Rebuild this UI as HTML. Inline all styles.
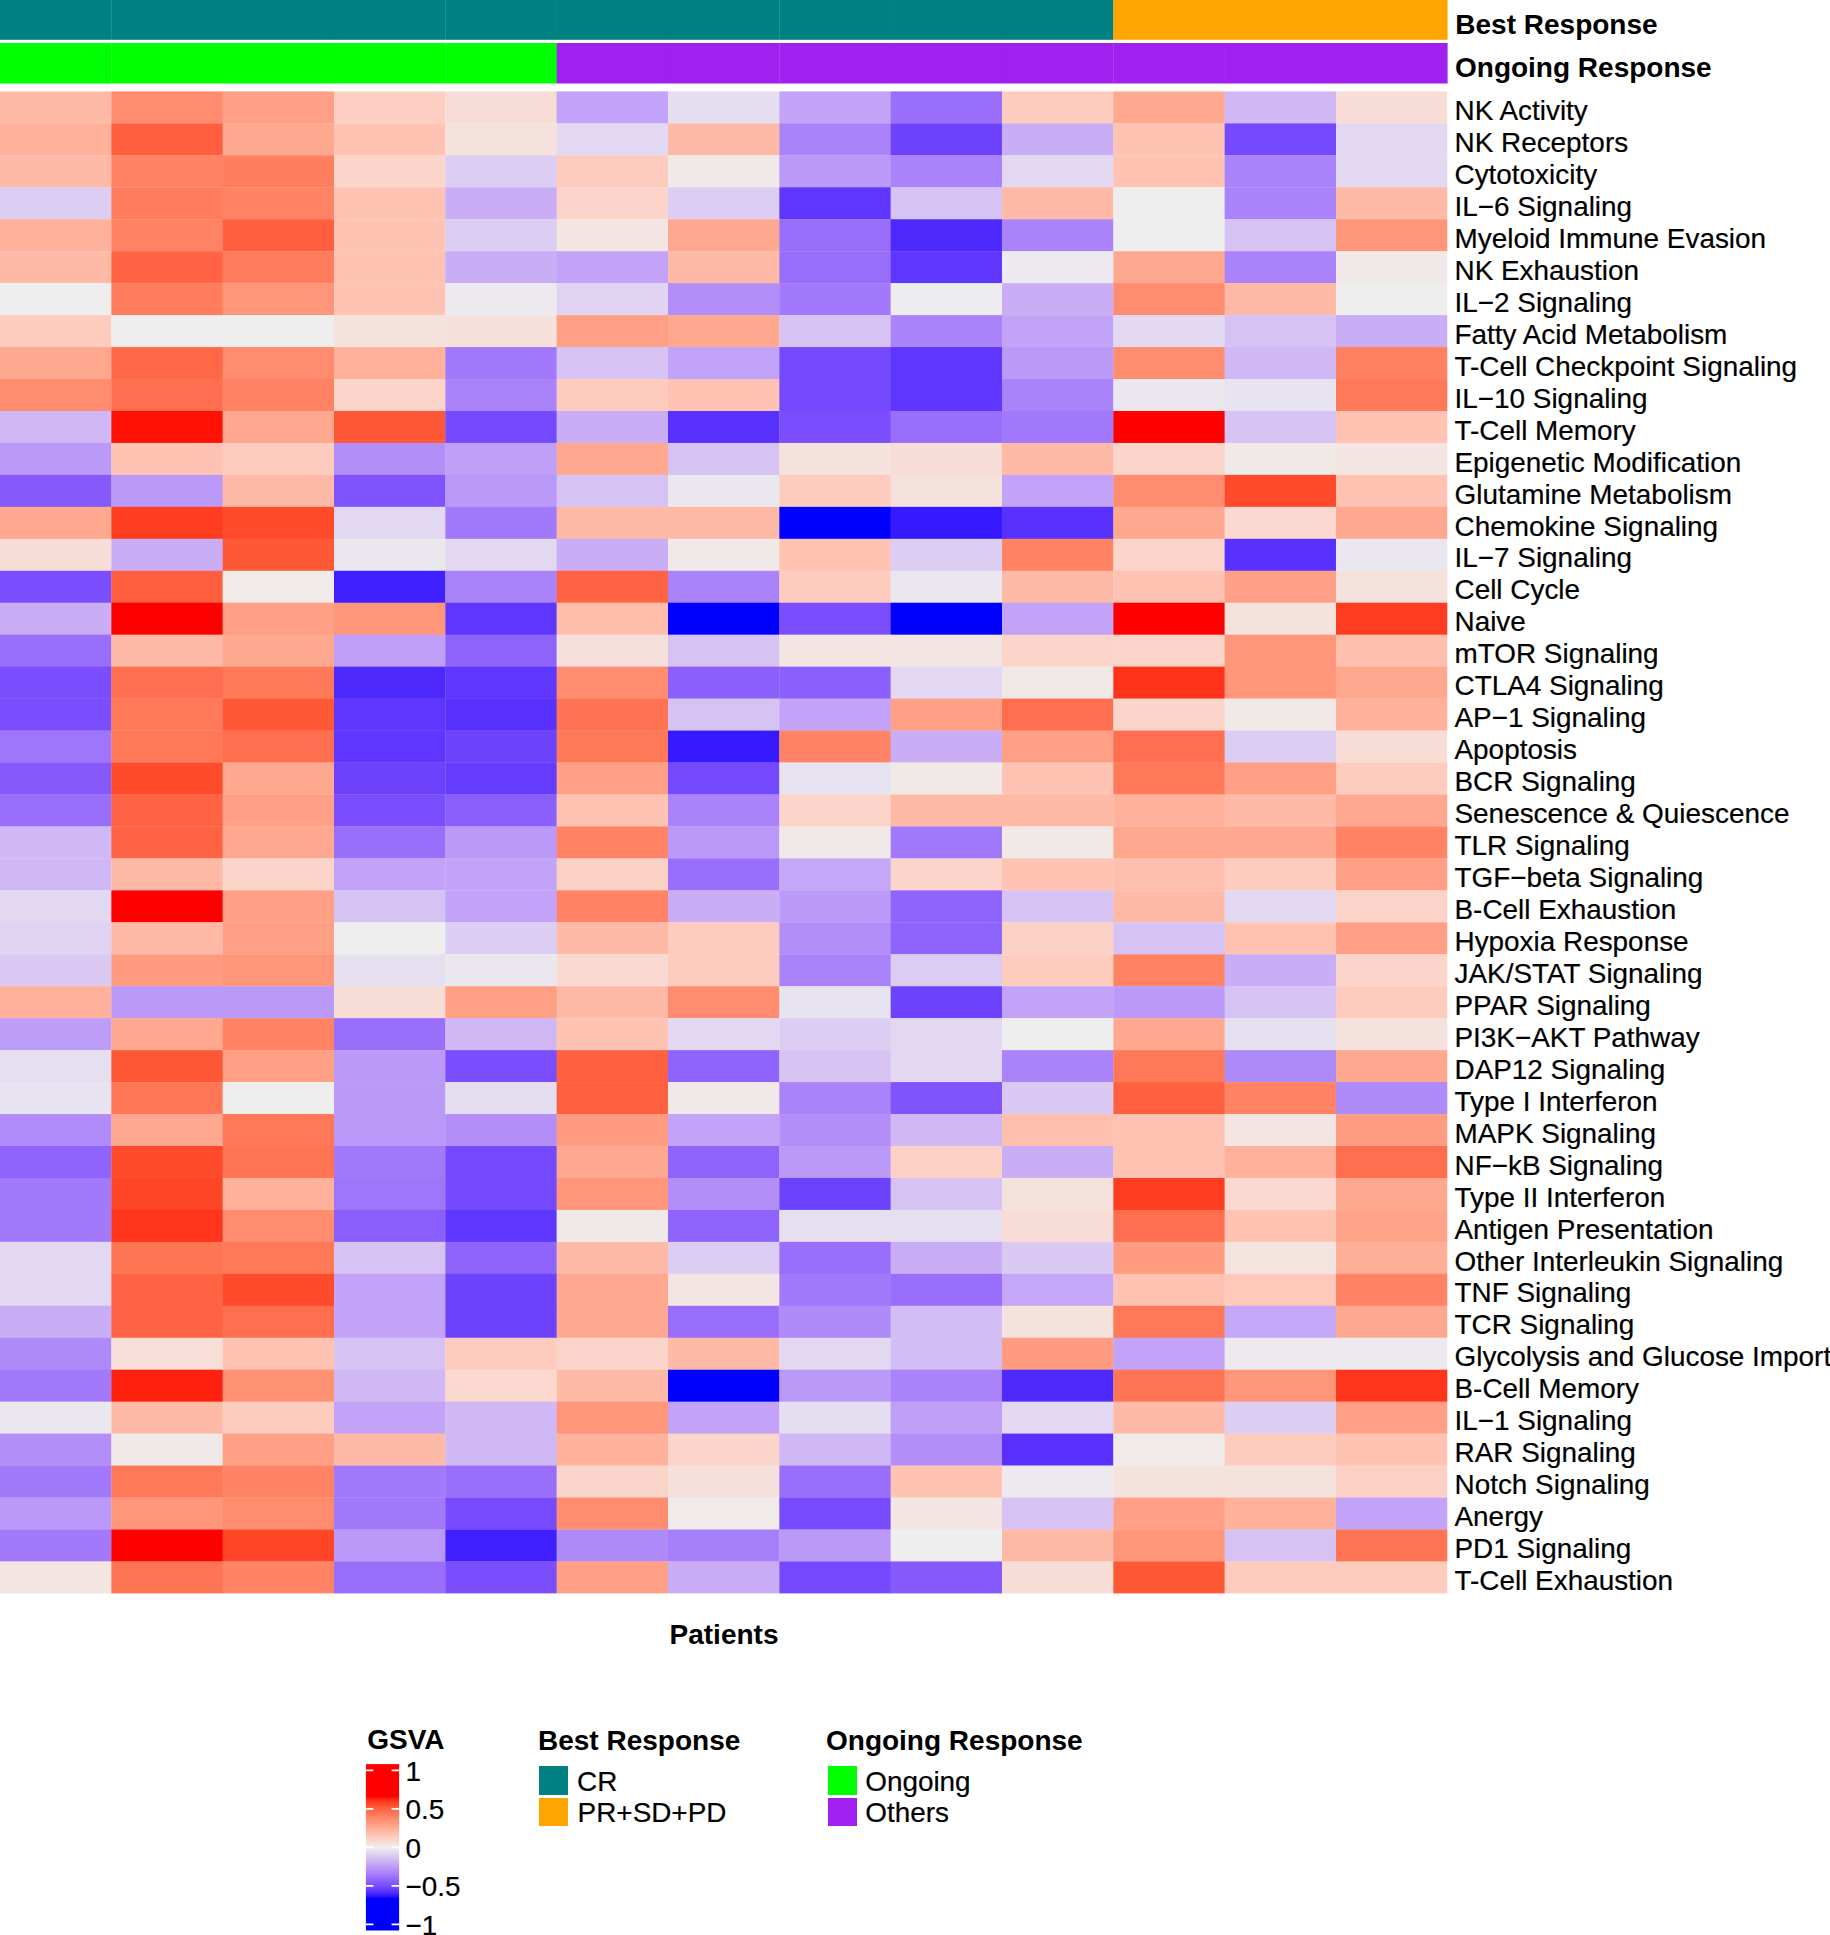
<!DOCTYPE html><html><head><meta charset="utf-8"><title>GSVA Heatmap</title><style>
html,body{margin:0;padding:0;background:#fff}
body{width:1830px;height:1935px;position:relative;overflow:hidden;font-family:"Liberation Sans",Arial,Helvetica,sans-serif;color:#000}
svg{position:absolute;left:0;top:0}
.t{position:absolute;white-space:nowrap;font-size:27.9px;line-height:1;}
.t{-webkit-text-stroke:0.2px #000}
.b{font-weight:bold;-webkit-text-stroke:0}

</style></head><body>
<svg width="1830" height="1935" viewBox="0 0 1830 1935">
<defs><linearGradient id="g" x1="0" y1="0" x2="0" y2="1">
<stop offset="0.0147" stop-color="#FF0000"/>
<stop offset="0.0379" stop-color="#FF0000"/>
<stop offset="0.0610" stop-color="#FF0000"/>
<stop offset="0.0841" stop-color="#FF0000"/>
<stop offset="0.1073" stop-color="#FF0000"/>
<stop offset="0.1304" stop-color="#FF0000"/>
<stop offset="0.1535" stop-color="#FF0000"/>
<stop offset="0.1767" stop-color="#FF0000"/>
<stop offset="0.1952" stop-color="#FF0000"/>
<stop offset="0.1998" stop-color="#FF1205"/>
<stop offset="0.2230" stop-color="#FF381E"/>
<stop offset="0.2461" stop-color="#FF4F30"/>
<stop offset="0.2692" stop-color="#FF6241"/>
<stop offset="0.2924" stop-color="#FF7252"/>
<stop offset="0.3155" stop-color="#FF8262"/>
<stop offset="0.3386" stop-color="#FF9073"/>
<stop offset="0.3618" stop-color="#FF9E84"/>
<stop offset="0.3849" stop-color="#FFAC95"/>
<stop offset="0.4081" stop-color="#FFBAA6"/>
<stop offset="0.4312" stop-color="#FFC7B8"/>
<stop offset="0.4543" stop-color="#FBD4CA"/>
<stop offset="0.4775" stop-color="#F5E1DC"/>
<stop offset="0.5006" stop-color="#EEEEEE"/>
<stop offset="0.5237" stop-color="#E5DEF0"/>
<stop offset="0.5469" stop-color="#DCCDF2"/>
<stop offset="0.5700" stop-color="#D2BDF4"/>
<stop offset="0.5931" stop-color="#C8ADF6"/>
<stop offset="0.6163" stop-color="#BD9DF8"/>
<stop offset="0.6394" stop-color="#B28DF9"/>
<stop offset="0.6626" stop-color="#A57DFA"/>
<stop offset="0.6857" stop-color="#986DFB"/>
<stop offset="0.7088" stop-color="#895DFC"/>
<stop offset="0.7320" stop-color="#784CFD"/>
<stop offset="0.7551" stop-color="#643AFE"/>
<stop offset="0.7782" stop-color="#4A27FE"/>
<stop offset="0.8014" stop-color="#1B09FF"/>
<stop offset="0.8060" stop-color="#0000FF"/>
<stop offset="0.8245" stop-color="#0000FF"/>
<stop offset="0.8477" stop-color="#0000FF"/>
<stop offset="0.8708" stop-color="#0000FF"/>
<stop offset="0.8939" stop-color="#0000FF"/>
<stop offset="0.9171" stop-color="#0000FF"/>
<stop offset="0.9402" stop-color="#0000FF"/>
<stop offset="0.9633" stop-color="#0000FF"/>
<stop offset="0.9865" stop-color="#0000FF"/>
</linearGradient></defs>
<rect x="0.00" y="0.00" width="111.63" height="39.80" fill="#008080"/>
<rect x="0.00" y="43.00" width="111.63" height="40.50" fill="#00FF00"/>
<rect x="111.33" y="0.00" width="111.63" height="39.80" fill="#008080"/>
<rect x="111.33" y="43.00" width="111.63" height="40.50" fill="#00FF00"/>
<rect x="222.66" y="0.00" width="111.63" height="39.80" fill="#008080"/>
<rect x="222.66" y="43.00" width="111.63" height="40.50" fill="#00FF00"/>
<rect x="333.99" y="0.00" width="111.63" height="39.80" fill="#008080"/>
<rect x="333.99" y="43.00" width="111.63" height="40.50" fill="#00FF00"/>
<rect x="445.32" y="0.00" width="111.63" height="39.80" fill="#008080"/>
<rect x="445.32" y="43.00" width="111.63" height="40.50" fill="#00FF00"/>
<rect x="556.65" y="0.00" width="111.63" height="39.80" fill="#008080"/>
<rect x="556.65" y="43.00" width="111.63" height="40.50" fill="#A020F0"/>
<rect x="667.98" y="0.00" width="111.63" height="39.80" fill="#008080"/>
<rect x="667.98" y="43.00" width="111.63" height="40.50" fill="#A020F0"/>
<rect x="779.32" y="0.00" width="111.63" height="39.80" fill="#008080"/>
<rect x="779.32" y="43.00" width="111.63" height="40.50" fill="#A020F0"/>
<rect x="890.65" y="0.00" width="111.63" height="39.80" fill="#008080"/>
<rect x="890.65" y="43.00" width="111.63" height="40.50" fill="#A020F0"/>
<rect x="1001.98" y="0.00" width="111.63" height="39.80" fill="#008080"/>
<rect x="1001.98" y="43.00" width="111.63" height="40.50" fill="#A020F0"/>
<rect x="1113.31" y="0.00" width="111.63" height="39.80" fill="#FFA500"/>
<rect x="1113.31" y="43.00" width="111.63" height="40.50" fill="#A020F0"/>
<rect x="1224.64" y="0.00" width="111.63" height="39.80" fill="#FFA500"/>
<rect x="1224.64" y="43.00" width="111.63" height="40.50" fill="#A020F0"/>
<rect x="1335.97" y="0.00" width="111.63" height="39.80" fill="#FFA500"/>
<rect x="1335.97" y="43.00" width="111.63" height="40.50" fill="#A020F0"/>
<rect x="0.00" y="91.40" width="111.63" height="32.26" fill="#FFBAA7"/>
<rect x="111.33" y="91.40" width="111.63" height="32.26" fill="#FF8C6F"/>
<rect x="222.66" y="91.40" width="111.63" height="32.26" fill="#FF9F85"/>
<rect x="333.99" y="91.40" width="111.63" height="32.26" fill="#FDCFC3"/>
<rect x="445.32" y="91.40" width="111.63" height="32.26" fill="#F7DDD6"/>
<rect x="556.65" y="91.40" width="111.63" height="32.26" fill="#C2A3F7"/>
<rect x="667.98" y="91.40" width="111.63" height="32.26" fill="#E5DDF0"/>
<rect x="779.32" y="91.40" width="111.63" height="32.26" fill="#C2A3F7"/>
<rect x="890.65" y="91.40" width="111.63" height="32.26" fill="#996EFB"/>
<rect x="1001.98" y="91.40" width="111.63" height="32.26" fill="#FECCBE"/>
<rect x="1113.31" y="91.40" width="111.63" height="32.26" fill="#FFA890"/>
<rect x="1224.64" y="91.40" width="111.63" height="32.26" fill="#CFB8F5"/>
<rect x="1335.97" y="91.40" width="111.33" height="32.26" fill="#F7DDD6"/>
<rect x="0.00" y="123.36" width="111.63" height="32.26" fill="#FFB19C"/>
<rect x="111.33" y="123.36" width="111.63" height="32.26" fill="#FF5F3E"/>
<rect x="222.66" y="123.36" width="111.63" height="32.26" fill="#FFA890"/>
<rect x="333.99" y="123.36" width="111.63" height="32.26" fill="#FFC3B3"/>
<rect x="445.32" y="123.36" width="111.63" height="32.26" fill="#F5E2DD"/>
<rect x="556.65" y="123.36" width="111.63" height="32.26" fill="#E2D8F1"/>
<rect x="667.98" y="123.36" width="111.63" height="32.26" fill="#FFBAA7"/>
<rect x="779.32" y="123.36" width="111.63" height="32.26" fill="#AA83FA"/>
<rect x="890.65" y="123.36" width="111.63" height="32.26" fill="#6D42FD"/>
<rect x="1001.98" y="123.36" width="111.63" height="32.26" fill="#C9AEF6"/>
<rect x="1113.31" y="123.36" width="111.63" height="32.26" fill="#FFC3B3"/>
<rect x="1224.64" y="123.36" width="111.63" height="32.26" fill="#7549FD"/>
<rect x="1335.97" y="123.36" width="111.33" height="32.26" fill="#E2D8F1"/>
<rect x="0.00" y="155.31" width="111.63" height="32.26" fill="#FFBAA7"/>
<rect x="111.33" y="155.31" width="111.63" height="32.26" fill="#FF8364"/>
<rect x="222.66" y="155.31" width="111.63" height="32.26" fill="#FF7F5F"/>
<rect x="333.99" y="155.31" width="111.63" height="32.26" fill="#FBD4CA"/>
<rect x="445.32" y="155.31" width="111.63" height="32.26" fill="#DCCEF2"/>
<rect x="556.65" y="155.31" width="111.63" height="32.26" fill="#FECCBE"/>
<rect x="667.98" y="155.31" width="111.63" height="32.26" fill="#F1E9E7"/>
<rect x="779.32" y="155.31" width="111.63" height="32.26" fill="#BA99F8"/>
<rect x="890.65" y="155.31" width="111.63" height="32.26" fill="#AA83FA"/>
<rect x="1001.98" y="155.31" width="111.63" height="32.26" fill="#E2D8F1"/>
<rect x="1113.31" y="155.31" width="111.63" height="32.26" fill="#FFC3B3"/>
<rect x="1224.64" y="155.31" width="111.63" height="32.26" fill="#AA83FA"/>
<rect x="1335.97" y="155.31" width="111.33" height="32.26" fill="#E2D8F1"/>
<rect x="0.00" y="187.27" width="111.63" height="32.26" fill="#DCCEF2"/>
<rect x="111.33" y="187.27" width="111.63" height="32.26" fill="#FF7D5D"/>
<rect x="222.66" y="187.27" width="111.63" height="32.26" fill="#FF8364"/>
<rect x="333.99" y="187.27" width="111.63" height="32.26" fill="#FFC3B3"/>
<rect x="445.32" y="187.27" width="111.63" height="32.26" fill="#C9AEF6"/>
<rect x="556.65" y="187.27" width="111.63" height="32.26" fill="#FBD4CA"/>
<rect x="667.98" y="187.27" width="111.63" height="32.26" fill="#DCCEF2"/>
<rect x="779.32" y="187.27" width="111.63" height="32.26" fill="#5F36FE"/>
<rect x="890.65" y="187.27" width="111.63" height="32.26" fill="#D6C3F4"/>
<rect x="1001.98" y="187.27" width="111.63" height="32.26" fill="#FFBAA7"/>
<rect x="1113.31" y="187.27" width="111.63" height="32.26" fill="#EEEEEE"/>
<rect x="1224.64" y="187.27" width="111.63" height="32.26" fill="#AA83FA"/>
<rect x="1335.97" y="187.27" width="111.33" height="32.26" fill="#FFBAA7"/>
<rect x="0.00" y="219.23" width="111.63" height="32.26" fill="#FFB19C"/>
<rect x="111.33" y="219.23" width="111.63" height="32.26" fill="#FF8364"/>
<rect x="222.66" y="219.23" width="111.63" height="32.26" fill="#FF5F3E"/>
<rect x="333.99" y="219.23" width="111.63" height="32.26" fill="#FFC3B3"/>
<rect x="445.32" y="219.23" width="111.63" height="32.26" fill="#DCCEF2"/>
<rect x="556.65" y="219.23" width="111.63" height="32.26" fill="#F3E5E2"/>
<rect x="667.98" y="219.23" width="111.63" height="32.26" fill="#FFA890"/>
<rect x="779.32" y="219.23" width="111.63" height="32.26" fill="#996EFB"/>
<rect x="890.65" y="219.23" width="111.63" height="32.26" fill="#4D29FE"/>
<rect x="1001.98" y="219.23" width="111.63" height="32.26" fill="#AA83FA"/>
<rect x="1113.31" y="219.23" width="111.63" height="32.26" fill="#EEEEEE"/>
<rect x="1224.64" y="219.23" width="111.63" height="32.26" fill="#D6C3F4"/>
<rect x="1335.97" y="219.23" width="111.33" height="32.26" fill="#FF967A"/>
<rect x="0.00" y="251.19" width="111.63" height="32.26" fill="#FFBAA7"/>
<rect x="111.33" y="251.19" width="111.63" height="32.26" fill="#FF6343"/>
<rect x="222.66" y="251.19" width="111.63" height="32.26" fill="#FF7D5D"/>
<rect x="333.99" y="251.19" width="111.63" height="32.26" fill="#FFC3B3"/>
<rect x="445.32" y="251.19" width="111.63" height="32.26" fill="#C9AEF6"/>
<rect x="556.65" y="251.19" width="111.63" height="32.26" fill="#C2A3F7"/>
<rect x="667.98" y="251.19" width="111.63" height="32.26" fill="#FFBAA7"/>
<rect x="779.32" y="251.19" width="111.63" height="32.26" fill="#996EFB"/>
<rect x="890.65" y="251.19" width="111.63" height="32.26" fill="#5F36FE"/>
<rect x="1001.98" y="251.19" width="111.63" height="32.26" fill="#ECEAEF"/>
<rect x="1113.31" y="251.19" width="111.63" height="32.26" fill="#FFA890"/>
<rect x="1224.64" y="251.19" width="111.63" height="32.26" fill="#AA83FA"/>
<rect x="1335.97" y="251.19" width="111.33" height="32.26" fill="#F1E9E7"/>
<rect x="0.00" y="283.14" width="111.63" height="32.26" fill="#EEEEEE"/>
<rect x="111.33" y="283.14" width="111.63" height="32.26" fill="#FF7D5D"/>
<rect x="222.66" y="283.14" width="111.63" height="32.26" fill="#FF967A"/>
<rect x="333.99" y="283.14" width="111.63" height="32.26" fill="#FFC3B3"/>
<rect x="445.32" y="283.14" width="111.63" height="32.26" fill="#ECEAEF"/>
<rect x="556.65" y="283.14" width="111.63" height="32.26" fill="#E0D4F2"/>
<rect x="667.98" y="283.14" width="111.63" height="32.26" fill="#B38EF9"/>
<rect x="779.32" y="283.14" width="111.63" height="32.26" fill="#A279FA"/>
<rect x="890.65" y="283.14" width="111.63" height="32.26" fill="#EDECEE"/>
<rect x="1001.98" y="283.14" width="111.63" height="32.26" fill="#C9AEF6"/>
<rect x="1113.31" y="283.14" width="111.63" height="32.26" fill="#FF8C6F"/>
<rect x="1224.64" y="283.14" width="111.63" height="32.26" fill="#FFBAA7"/>
<rect x="1335.97" y="283.14" width="111.33" height="32.26" fill="#EEEEEE"/>
<rect x="0.00" y="315.10" width="111.63" height="32.26" fill="#FECCBE"/>
<rect x="111.33" y="315.10" width="111.63" height="32.26" fill="#EEEEEE"/>
<rect x="222.66" y="315.10" width="111.63" height="32.26" fill="#EEEEEE"/>
<rect x="333.99" y="315.10" width="111.63" height="32.26" fill="#F5E2DD"/>
<rect x="445.32" y="315.10" width="111.63" height="32.26" fill="#F6E0DB"/>
<rect x="556.65" y="315.10" width="111.63" height="32.26" fill="#FF9F85"/>
<rect x="667.98" y="315.10" width="111.63" height="32.26" fill="#FFA890"/>
<rect x="779.32" y="315.10" width="111.63" height="32.26" fill="#D6C3F4"/>
<rect x="890.65" y="315.10" width="111.63" height="32.26" fill="#AA83FA"/>
<rect x="1001.98" y="315.10" width="111.63" height="32.26" fill="#C2A3F7"/>
<rect x="1113.31" y="315.10" width="111.63" height="32.26" fill="#E2D8F1"/>
<rect x="1224.64" y="315.10" width="111.63" height="32.26" fill="#D6C3F4"/>
<rect x="1335.97" y="315.10" width="111.33" height="32.26" fill="#C9AEF6"/>
<rect x="0.00" y="347.06" width="111.63" height="32.26" fill="#FFA890"/>
<rect x="111.33" y="347.06" width="111.63" height="32.26" fill="#FF6847"/>
<rect x="222.66" y="347.06" width="111.63" height="32.26" fill="#FF8C6F"/>
<rect x="333.99" y="347.06" width="111.63" height="32.26" fill="#FFB19C"/>
<rect x="445.32" y="347.06" width="111.63" height="32.26" fill="#A279FA"/>
<rect x="556.65" y="347.06" width="111.63" height="32.26" fill="#D6C3F4"/>
<rect x="667.98" y="347.06" width="111.63" height="32.26" fill="#C2A3F7"/>
<rect x="779.32" y="347.06" width="111.63" height="32.26" fill="#7549FD"/>
<rect x="890.65" y="347.06" width="111.63" height="32.26" fill="#5F36FE"/>
<rect x="1001.98" y="347.06" width="111.63" height="32.26" fill="#BA99F8"/>
<rect x="1113.31" y="347.06" width="111.63" height="32.26" fill="#FF8C6F"/>
<rect x="1224.64" y="347.06" width="111.63" height="32.26" fill="#CFB8F5"/>
<rect x="1335.97" y="347.06" width="111.33" height="32.26" fill="#FF8161"/>
<rect x="0.00" y="379.02" width="111.63" height="32.26" fill="#FF8C6F"/>
<rect x="111.33" y="379.02" width="111.63" height="32.26" fill="#FF6E4E"/>
<rect x="222.66" y="379.02" width="111.63" height="32.26" fill="#FF8364"/>
<rect x="333.99" y="379.02" width="111.63" height="32.26" fill="#FBD4CA"/>
<rect x="445.32" y="379.02" width="111.63" height="32.26" fill="#AA83FA"/>
<rect x="556.65" y="379.02" width="111.63" height="32.26" fill="#FECCBE"/>
<rect x="667.98" y="379.02" width="111.63" height="32.26" fill="#FFC3B3"/>
<rect x="779.32" y="379.02" width="111.63" height="32.26" fill="#7549FD"/>
<rect x="890.65" y="379.02" width="111.63" height="32.26" fill="#5F36FE"/>
<rect x="1001.98" y="379.02" width="111.63" height="32.26" fill="#AA83FA"/>
<rect x="1113.31" y="379.02" width="111.63" height="32.26" fill="#EBE7EF"/>
<rect x="1224.64" y="379.02" width="111.63" height="32.26" fill="#E8E3F0"/>
<rect x="1335.97" y="379.02" width="111.33" height="32.26" fill="#FF7959"/>
<rect x="0.00" y="410.97" width="111.63" height="32.26" fill="#CFB8F5"/>
<rect x="111.33" y="410.97" width="111.63" height="32.26" fill="#FF1205"/>
<rect x="222.66" y="410.97" width="111.63" height="32.26" fill="#FFA890"/>
<rect x="333.99" y="410.97" width="111.63" height="32.26" fill="#FF5837"/>
<rect x="445.32" y="410.97" width="111.63" height="32.26" fill="#7549FD"/>
<rect x="556.65" y="410.97" width="111.63" height="32.26" fill="#C9AEF6"/>
<rect x="667.98" y="410.97" width="111.63" height="32.26" fill="#5831FE"/>
<rect x="779.32" y="410.97" width="111.63" height="32.26" fill="#7A4EFD"/>
<rect x="890.65" y="410.97" width="111.63" height="32.26" fill="#996EFB"/>
<rect x="1001.98" y="410.97" width="111.63" height="32.26" fill="#A279FA"/>
<rect x="1113.31" y="410.97" width="111.63" height="32.26" fill="#FF0000"/>
<rect x="1224.64" y="410.97" width="111.63" height="32.26" fill="#D6C3F4"/>
<rect x="1335.97" y="410.97" width="111.33" height="32.26" fill="#FFC3B3"/>
<rect x="0.00" y="442.93" width="111.63" height="32.26" fill="#BA99F8"/>
<rect x="111.33" y="442.93" width="111.63" height="32.26" fill="#FFC3B3"/>
<rect x="222.66" y="442.93" width="111.63" height="32.26" fill="#FECCBE"/>
<rect x="333.99" y="442.93" width="111.63" height="32.26" fill="#B38EF9"/>
<rect x="445.32" y="442.93" width="111.63" height="32.26" fill="#BF9FF7"/>
<rect x="556.65" y="442.93" width="111.63" height="32.26" fill="#FFA890"/>
<rect x="667.98" y="442.93" width="111.63" height="32.26" fill="#D6C3F4"/>
<rect x="779.32" y="442.93" width="111.63" height="32.26" fill="#F5E2DD"/>
<rect x="890.65" y="442.93" width="111.63" height="32.26" fill="#F7DDD6"/>
<rect x="1001.98" y="442.93" width="111.63" height="32.26" fill="#FFBAA7"/>
<rect x="1113.31" y="442.93" width="111.63" height="32.26" fill="#FBD4CA"/>
<rect x="1224.64" y="442.93" width="111.63" height="32.26" fill="#F1E9E7"/>
<rect x="1335.97" y="442.93" width="111.33" height="32.26" fill="#F3E5E2"/>
<rect x="0.00" y="474.89" width="111.63" height="32.26" fill="#8559FC"/>
<rect x="111.33" y="474.89" width="111.63" height="32.26" fill="#BA99F8"/>
<rect x="222.66" y="474.89" width="111.63" height="32.26" fill="#FFBAA7"/>
<rect x="333.99" y="474.89" width="111.63" height="32.26" fill="#8054FD"/>
<rect x="445.32" y="474.89" width="111.63" height="32.26" fill="#BA99F8"/>
<rect x="556.65" y="474.89" width="111.63" height="32.26" fill="#D6C3F4"/>
<rect x="667.98" y="474.89" width="111.63" height="32.26" fill="#EBE7EF"/>
<rect x="779.32" y="474.89" width="111.63" height="32.26" fill="#FECCBE"/>
<rect x="890.65" y="474.89" width="111.63" height="32.26" fill="#F5E2DD"/>
<rect x="1001.98" y="474.89" width="111.63" height="32.26" fill="#C2A3F7"/>
<rect x="1113.31" y="474.89" width="111.63" height="32.26" fill="#FF8C6F"/>
<rect x="1224.64" y="474.89" width="111.63" height="32.26" fill="#FF4B2C"/>
<rect x="1335.97" y="474.89" width="111.33" height="32.26" fill="#FFC3B3"/>
<rect x="0.00" y="506.85" width="111.63" height="32.26" fill="#FFA890"/>
<rect x="111.33" y="506.85" width="111.63" height="32.26" fill="#FF3C20"/>
<rect x="222.66" y="506.85" width="111.63" height="32.26" fill="#FF4B2C"/>
<rect x="333.99" y="506.85" width="111.63" height="32.26" fill="#E2D8F1"/>
<rect x="445.32" y="506.85" width="111.63" height="32.26" fill="#A279FA"/>
<rect x="556.65" y="506.85" width="111.63" height="32.26" fill="#FFBAA7"/>
<rect x="667.98" y="506.85" width="111.63" height="32.26" fill="#FFBAA7"/>
<rect x="779.32" y="506.85" width="111.63" height="32.26" fill="#0000FF"/>
<rect x="890.65" y="506.85" width="111.63" height="32.26" fill="#3619FF"/>
<rect x="1001.98" y="506.85" width="111.63" height="32.26" fill="#5831FE"/>
<rect x="1113.31" y="506.85" width="111.63" height="32.26" fill="#FFA890"/>
<rect x="1224.64" y="506.85" width="111.63" height="32.26" fill="#F9D9D1"/>
<rect x="1335.97" y="506.85" width="111.33" height="32.26" fill="#FFA890"/>
<rect x="0.00" y="538.80" width="111.63" height="32.26" fill="#F7DDD6"/>
<rect x="111.33" y="538.80" width="111.63" height="32.26" fill="#C9AEF6"/>
<rect x="222.66" y="538.80" width="111.63" height="32.26" fill="#FF5837"/>
<rect x="333.99" y="538.80" width="111.63" height="32.26" fill="#EBE7EF"/>
<rect x="445.32" y="538.80" width="111.63" height="32.26" fill="#E2D8F1"/>
<rect x="556.65" y="538.80" width="111.63" height="32.26" fill="#C9AEF6"/>
<rect x="667.98" y="538.80" width="111.63" height="32.26" fill="#F1E9E7"/>
<rect x="779.32" y="538.80" width="111.63" height="32.26" fill="#FFC3B3"/>
<rect x="890.65" y="538.80" width="111.63" height="32.26" fill="#DCCEF2"/>
<rect x="1001.98" y="538.80" width="111.63" height="32.26" fill="#FF8364"/>
<rect x="1113.31" y="538.80" width="111.63" height="32.26" fill="#FBD4CA"/>
<rect x="1224.64" y="538.80" width="111.63" height="32.26" fill="#5831FE"/>
<rect x="1335.97" y="538.80" width="111.33" height="32.26" fill="#EBE7EF"/>
<rect x="0.00" y="570.76" width="111.63" height="32.26" fill="#7A4EFD"/>
<rect x="111.33" y="570.76" width="111.63" height="32.26" fill="#FF5F3E"/>
<rect x="222.66" y="570.76" width="111.63" height="32.26" fill="#F0EBE9"/>
<rect x="333.99" y="570.76" width="111.63" height="32.26" fill="#4020FF"/>
<rect x="445.32" y="570.76" width="111.63" height="32.26" fill="#AA83FA"/>
<rect x="556.65" y="570.76" width="111.63" height="32.26" fill="#FF6343"/>
<rect x="667.98" y="570.76" width="111.63" height="32.26" fill="#AA83FA"/>
<rect x="779.32" y="570.76" width="111.63" height="32.26" fill="#FECCBE"/>
<rect x="890.65" y="570.76" width="111.63" height="32.26" fill="#EBE7EF"/>
<rect x="1001.98" y="570.76" width="111.63" height="32.26" fill="#FFBAA7"/>
<rect x="1113.31" y="570.76" width="111.63" height="32.26" fill="#FFC3B3"/>
<rect x="1224.64" y="570.76" width="111.63" height="32.26" fill="#FF9F85"/>
<rect x="1335.97" y="570.76" width="111.33" height="32.26" fill="#F5E2DD"/>
<rect x="0.00" y="602.72" width="111.63" height="32.26" fill="#C9AEF6"/>
<rect x="111.33" y="602.72" width="111.63" height="32.26" fill="#FF0000"/>
<rect x="222.66" y="602.72" width="111.63" height="32.26" fill="#FF9F85"/>
<rect x="333.99" y="602.72" width="111.63" height="32.26" fill="#FF967A"/>
<rect x="445.32" y="602.72" width="111.63" height="32.26" fill="#5F36FE"/>
<rect x="556.65" y="602.72" width="111.63" height="32.26" fill="#FFBEAC"/>
<rect x="667.98" y="602.72" width="111.63" height="32.26" fill="#0000FF"/>
<rect x="779.32" y="602.72" width="111.63" height="32.26" fill="#7A4EFD"/>
<rect x="890.65" y="602.72" width="111.63" height="32.26" fill="#0000FF"/>
<rect x="1001.98" y="602.72" width="111.63" height="32.26" fill="#C2A3F7"/>
<rect x="1113.31" y="602.72" width="111.63" height="32.26" fill="#FF0000"/>
<rect x="1224.64" y="602.72" width="111.63" height="32.26" fill="#F5E2DD"/>
<rect x="1335.97" y="602.72" width="111.33" height="32.26" fill="#FF3C20"/>
<rect x="0.00" y="634.68" width="111.63" height="32.26" fill="#996EFB"/>
<rect x="111.33" y="634.68" width="111.63" height="32.26" fill="#FFBAA7"/>
<rect x="222.66" y="634.68" width="111.63" height="32.26" fill="#FFA890"/>
<rect x="333.99" y="634.68" width="111.63" height="32.26" fill="#BF9FF7"/>
<rect x="445.32" y="634.68" width="111.63" height="32.26" fill="#8F64FC"/>
<rect x="556.65" y="634.68" width="111.63" height="32.26" fill="#F6E0DB"/>
<rect x="667.98" y="634.68" width="111.63" height="32.26" fill="#D6C3F4"/>
<rect x="779.32" y="634.68" width="111.63" height="32.26" fill="#F3E5E2"/>
<rect x="890.65" y="634.68" width="111.63" height="32.26" fill="#F3E5E2"/>
<rect x="1001.98" y="634.68" width="111.63" height="32.26" fill="#FBD4CA"/>
<rect x="1113.31" y="634.68" width="111.63" height="32.26" fill="#FBD4CA"/>
<rect x="1224.64" y="634.68" width="111.63" height="32.26" fill="#FF967A"/>
<rect x="1335.97" y="634.68" width="111.33" height="32.26" fill="#FFBFAE"/>
<rect x="0.00" y="666.63" width="111.63" height="32.26" fill="#7A4EFD"/>
<rect x="111.33" y="666.63" width="111.63" height="32.26" fill="#FF6E4E"/>
<rect x="222.66" y="666.63" width="111.63" height="32.26" fill="#FF7959"/>
<rect x="333.99" y="666.63" width="111.63" height="32.26" fill="#4D29FE"/>
<rect x="445.32" y="666.63" width="111.63" height="32.26" fill="#5F36FE"/>
<rect x="556.65" y="666.63" width="111.63" height="32.26" fill="#FF8C6F"/>
<rect x="667.98" y="666.63" width="111.63" height="32.26" fill="#8B5FFC"/>
<rect x="779.32" y="666.63" width="111.63" height="32.26" fill="#8B5FFC"/>
<rect x="890.65" y="666.63" width="111.63" height="32.26" fill="#E2D8F1"/>
<rect x="1001.98" y="666.63" width="111.63" height="32.26" fill="#F1E9E7"/>
<rect x="1113.31" y="666.63" width="111.63" height="32.26" fill="#FF3118"/>
<rect x="1224.64" y="666.63" width="111.63" height="32.26" fill="#FF967A"/>
<rect x="1335.97" y="666.63" width="111.33" height="32.26" fill="#FFA890"/>
<rect x="0.00" y="698.59" width="111.63" height="32.26" fill="#7A4EFD"/>
<rect x="111.33" y="698.59" width="111.63" height="32.26" fill="#FF7959"/>
<rect x="222.66" y="698.59" width="111.63" height="32.26" fill="#FF5837"/>
<rect x="333.99" y="698.59" width="111.63" height="32.26" fill="#5F36FE"/>
<rect x="445.32" y="698.59" width="111.63" height="32.26" fill="#5831FE"/>
<rect x="556.65" y="698.59" width="111.63" height="32.26" fill="#FF7352"/>
<rect x="667.98" y="698.59" width="111.63" height="32.26" fill="#D6C3F4"/>
<rect x="779.32" y="698.59" width="111.63" height="32.26" fill="#C2A3F7"/>
<rect x="890.65" y="698.59" width="111.63" height="32.26" fill="#FF9F85"/>
<rect x="1001.98" y="698.59" width="111.63" height="32.26" fill="#FF6E4E"/>
<rect x="1113.31" y="698.59" width="111.63" height="32.26" fill="#FBD4CA"/>
<rect x="1224.64" y="698.59" width="111.63" height="32.26" fill="#F1E9E7"/>
<rect x="1335.97" y="698.59" width="111.33" height="32.26" fill="#FFB19C"/>
<rect x="0.00" y="730.55" width="111.63" height="32.26" fill="#9E75FB"/>
<rect x="111.33" y="730.55" width="111.63" height="32.26" fill="#FF7959"/>
<rect x="222.66" y="730.55" width="111.63" height="32.26" fill="#FF6E4E"/>
<rect x="333.99" y="730.55" width="111.63" height="32.26" fill="#5F36FE"/>
<rect x="445.32" y="730.55" width="111.63" height="32.26" fill="#6D42FD"/>
<rect x="556.65" y="730.55" width="111.63" height="32.26" fill="#FF7959"/>
<rect x="667.98" y="730.55" width="111.63" height="32.26" fill="#3619FF"/>
<rect x="779.32" y="730.55" width="111.63" height="32.26" fill="#FF8364"/>
<rect x="890.65" y="730.55" width="111.63" height="32.26" fill="#C9AEF6"/>
<rect x="1001.98" y="730.55" width="111.63" height="32.26" fill="#FF9F85"/>
<rect x="1113.31" y="730.55" width="111.63" height="32.26" fill="#FF6E4E"/>
<rect x="1224.64" y="730.55" width="111.63" height="32.26" fill="#DCCEF2"/>
<rect x="1335.97" y="730.55" width="111.33" height="32.26" fill="#F7DDD6"/>
<rect x="0.00" y="762.51" width="111.63" height="32.26" fill="#8559FC"/>
<rect x="111.33" y="762.51" width="111.63" height="32.26" fill="#FF4B2C"/>
<rect x="222.66" y="762.51" width="111.63" height="32.26" fill="#FFA890"/>
<rect x="333.99" y="762.51" width="111.63" height="32.26" fill="#6D42FD"/>
<rect x="445.32" y="762.51" width="111.63" height="32.26" fill="#653BFE"/>
<rect x="556.65" y="762.51" width="111.63" height="32.26" fill="#FF9F85"/>
<rect x="667.98" y="762.51" width="111.63" height="32.26" fill="#7549FD"/>
<rect x="779.32" y="762.51" width="111.63" height="32.26" fill="#E8E3F0"/>
<rect x="890.65" y="762.51" width="111.63" height="32.26" fill="#F1E9E7"/>
<rect x="1001.98" y="762.51" width="111.63" height="32.26" fill="#FFC3B3"/>
<rect x="1113.31" y="762.51" width="111.63" height="32.26" fill="#FF7959"/>
<rect x="1224.64" y="762.51" width="111.63" height="32.26" fill="#FF9F85"/>
<rect x="1335.97" y="762.51" width="111.33" height="32.26" fill="#FECCBE"/>
<rect x="0.00" y="794.46" width="111.63" height="32.26" fill="#996EFB"/>
<rect x="111.33" y="794.46" width="111.63" height="32.26" fill="#FF6343"/>
<rect x="222.66" y="794.46" width="111.63" height="32.26" fill="#FF9F85"/>
<rect x="333.99" y="794.46" width="111.63" height="32.26" fill="#7A4EFD"/>
<rect x="445.32" y="794.46" width="111.63" height="32.26" fill="#8B5FFC"/>
<rect x="556.65" y="794.46" width="111.63" height="32.26" fill="#FFC3B3"/>
<rect x="667.98" y="794.46" width="111.63" height="32.26" fill="#AA83FA"/>
<rect x="779.32" y="794.46" width="111.63" height="32.26" fill="#FBD4CA"/>
<rect x="890.65" y="794.46" width="111.63" height="32.26" fill="#FFBAA7"/>
<rect x="1001.98" y="794.46" width="111.63" height="32.26" fill="#FFBAA7"/>
<rect x="1113.31" y="794.46" width="111.63" height="32.26" fill="#FFB19C"/>
<rect x="1224.64" y="794.46" width="111.63" height="32.26" fill="#FFBAA7"/>
<rect x="1335.97" y="794.46" width="111.33" height="32.26" fill="#FFA890"/>
<rect x="0.00" y="826.42" width="111.63" height="32.26" fill="#CFB8F5"/>
<rect x="111.33" y="826.42" width="111.63" height="32.26" fill="#FF6343"/>
<rect x="222.66" y="826.42" width="111.63" height="32.26" fill="#FFA890"/>
<rect x="333.99" y="826.42" width="111.63" height="32.26" fill="#996EFB"/>
<rect x="445.32" y="826.42" width="111.63" height="32.26" fill="#BA99F8"/>
<rect x="556.65" y="826.42" width="111.63" height="32.26" fill="#FF8364"/>
<rect x="667.98" y="826.42" width="111.63" height="32.26" fill="#BA99F8"/>
<rect x="779.32" y="826.42" width="111.63" height="32.26" fill="#F1E9E7"/>
<rect x="890.65" y="826.42" width="111.63" height="32.26" fill="#A279FA"/>
<rect x="1001.98" y="826.42" width="111.63" height="32.26" fill="#F1E9E7"/>
<rect x="1113.31" y="826.42" width="111.63" height="32.26" fill="#FFA890"/>
<rect x="1224.64" y="826.42" width="111.63" height="32.26" fill="#FFA890"/>
<rect x="1335.97" y="826.42" width="111.33" height="32.26" fill="#FF8364"/>
<rect x="0.00" y="858.38" width="111.63" height="32.26" fill="#CFB8F5"/>
<rect x="111.33" y="858.38" width="111.63" height="32.26" fill="#FFBAA7"/>
<rect x="222.66" y="858.38" width="111.63" height="32.26" fill="#FBD4CA"/>
<rect x="333.99" y="858.38" width="111.63" height="32.26" fill="#C2A3F7"/>
<rect x="445.32" y="858.38" width="111.63" height="32.26" fill="#C2A3F7"/>
<rect x="556.65" y="858.38" width="111.63" height="32.26" fill="#FCD1C5"/>
<rect x="667.98" y="858.38" width="111.63" height="32.26" fill="#996EFB"/>
<rect x="779.32" y="858.38" width="111.63" height="32.26" fill="#C4A7F7"/>
<rect x="890.65" y="858.38" width="111.63" height="32.26" fill="#FBD4CA"/>
<rect x="1001.98" y="858.38" width="111.63" height="32.26" fill="#FFC3B3"/>
<rect x="1113.31" y="858.38" width="111.63" height="32.26" fill="#FFBFAE"/>
<rect x="1224.64" y="858.38" width="111.63" height="32.26" fill="#FECCBE"/>
<rect x="1335.97" y="858.38" width="111.33" height="32.26" fill="#FF9F85"/>
<rect x="0.00" y="890.34" width="111.63" height="32.26" fill="#E2D8F1"/>
<rect x="111.33" y="890.34" width="111.63" height="32.26" fill="#FF0000"/>
<rect x="222.66" y="890.34" width="111.63" height="32.26" fill="#FF9F85"/>
<rect x="333.99" y="890.34" width="111.63" height="32.26" fill="#D6C3F4"/>
<rect x="445.32" y="890.34" width="111.63" height="32.26" fill="#C2A3F7"/>
<rect x="556.65" y="890.34" width="111.63" height="32.26" fill="#FF8364"/>
<rect x="667.98" y="890.34" width="111.63" height="32.26" fill="#C9AEF6"/>
<rect x="779.32" y="890.34" width="111.63" height="32.26" fill="#BA99F8"/>
<rect x="890.65" y="890.34" width="111.63" height="32.26" fill="#8F64FC"/>
<rect x="1001.98" y="890.34" width="111.63" height="32.26" fill="#D6C3F4"/>
<rect x="1113.31" y="890.34" width="111.63" height="32.26" fill="#FFBAA7"/>
<rect x="1224.64" y="890.34" width="111.63" height="32.26" fill="#E2D8F1"/>
<rect x="1335.97" y="890.34" width="111.33" height="32.26" fill="#FCD3C8"/>
<rect x="0.00" y="922.29" width="111.63" height="32.26" fill="#DFD2F2"/>
<rect x="111.33" y="922.29" width="111.63" height="32.26" fill="#FFBAA7"/>
<rect x="222.66" y="922.29" width="111.63" height="32.26" fill="#FF9F85"/>
<rect x="333.99" y="922.29" width="111.63" height="32.26" fill="#EEEEEE"/>
<rect x="445.32" y="922.29" width="111.63" height="32.26" fill="#DCCEF2"/>
<rect x="556.65" y="922.29" width="111.63" height="32.26" fill="#FFBAA7"/>
<rect x="667.98" y="922.29" width="111.63" height="32.26" fill="#FECCBE"/>
<rect x="779.32" y="922.29" width="111.63" height="32.26" fill="#B38EF9"/>
<rect x="890.65" y="922.29" width="111.63" height="32.26" fill="#8F64FC"/>
<rect x="1001.98" y="922.29" width="111.63" height="32.26" fill="#FCD1C5"/>
<rect x="1113.31" y="922.29" width="111.63" height="32.26" fill="#D6C3F4"/>
<rect x="1224.64" y="922.29" width="111.63" height="32.26" fill="#FFC3B3"/>
<rect x="1335.97" y="922.29" width="111.33" height="32.26" fill="#FF9F85"/>
<rect x="0.00" y="954.25" width="111.63" height="32.26" fill="#DAC9F3"/>
<rect x="111.33" y="954.25" width="111.63" height="32.26" fill="#FF9B80"/>
<rect x="222.66" y="954.25" width="111.63" height="32.26" fill="#FF967A"/>
<rect x="333.99" y="954.25" width="111.63" height="32.26" fill="#E6DFF0"/>
<rect x="445.32" y="954.25" width="111.63" height="32.26" fill="#EBE7EF"/>
<rect x="556.65" y="954.25" width="111.63" height="32.26" fill="#F9D9D1"/>
<rect x="667.98" y="954.25" width="111.63" height="32.26" fill="#FECCBE"/>
<rect x="779.32" y="954.25" width="111.63" height="32.26" fill="#AA83FA"/>
<rect x="890.65" y="954.25" width="111.63" height="32.26" fill="#DBCCF3"/>
<rect x="1001.98" y="954.25" width="111.63" height="32.26" fill="#FECCBE"/>
<rect x="1113.31" y="954.25" width="111.63" height="32.26" fill="#FF8364"/>
<rect x="1224.64" y="954.25" width="111.63" height="32.26" fill="#C9AEF6"/>
<rect x="1335.97" y="954.25" width="111.33" height="32.26" fill="#FBD4CA"/>
<rect x="0.00" y="986.21" width="111.63" height="32.26" fill="#FFB19C"/>
<rect x="111.33" y="986.21" width="111.63" height="32.26" fill="#BA99F8"/>
<rect x="222.66" y="986.21" width="111.63" height="32.26" fill="#BA99F8"/>
<rect x="333.99" y="986.21" width="111.63" height="32.26" fill="#F7DDD6"/>
<rect x="445.32" y="986.21" width="111.63" height="32.26" fill="#FF9F85"/>
<rect x="556.65" y="986.21" width="111.63" height="32.26" fill="#FFBAA7"/>
<rect x="667.98" y="986.21" width="111.63" height="32.26" fill="#FF8C6F"/>
<rect x="779.32" y="986.21" width="111.63" height="32.26" fill="#E8E3F0"/>
<rect x="890.65" y="986.21" width="111.63" height="32.26" fill="#6D42FD"/>
<rect x="1001.98" y="986.21" width="111.63" height="32.26" fill="#C2A3F7"/>
<rect x="1113.31" y="986.21" width="111.63" height="32.26" fill="#BA99F8"/>
<rect x="1224.64" y="986.21" width="111.63" height="32.26" fill="#D6C3F4"/>
<rect x="1335.97" y="986.21" width="111.33" height="32.26" fill="#FECCBE"/>
<rect x="0.00" y="1018.17" width="111.63" height="32.26" fill="#BD9DF8"/>
<rect x="111.33" y="1018.17" width="111.63" height="32.26" fill="#FFA890"/>
<rect x="222.66" y="1018.17" width="111.63" height="32.26" fill="#FF8364"/>
<rect x="333.99" y="1018.17" width="111.63" height="32.26" fill="#996EFB"/>
<rect x="445.32" y="1018.17" width="111.63" height="32.26" fill="#CFB8F5"/>
<rect x="556.65" y="1018.17" width="111.63" height="32.26" fill="#FFC3B3"/>
<rect x="667.98" y="1018.17" width="111.63" height="32.26" fill="#E2D8F1"/>
<rect x="779.32" y="1018.17" width="111.63" height="32.26" fill="#DCCEF2"/>
<rect x="890.65" y="1018.17" width="111.63" height="32.26" fill="#E2D8F1"/>
<rect x="1001.98" y="1018.17" width="111.63" height="32.26" fill="#EEEEEE"/>
<rect x="1113.31" y="1018.17" width="111.63" height="32.26" fill="#FFA890"/>
<rect x="1224.64" y="1018.17" width="111.63" height="32.26" fill="#E6DFF0"/>
<rect x="1335.97" y="1018.17" width="111.33" height="32.26" fill="#F5E2DD"/>
<rect x="0.00" y="1050.12" width="111.63" height="32.26" fill="#E6DFF0"/>
<rect x="111.33" y="1050.12" width="111.63" height="32.26" fill="#FF5837"/>
<rect x="222.66" y="1050.12" width="111.63" height="32.26" fill="#FF9F85"/>
<rect x="333.99" y="1050.12" width="111.63" height="32.26" fill="#BA99F8"/>
<rect x="445.32" y="1050.12" width="111.63" height="32.26" fill="#7A4EFD"/>
<rect x="556.65" y="1050.12" width="111.63" height="32.26" fill="#FF6140"/>
<rect x="667.98" y="1050.12" width="111.63" height="32.26" fill="#8F64FC"/>
<rect x="779.32" y="1050.12" width="111.63" height="32.26" fill="#D6C3F4"/>
<rect x="890.65" y="1050.12" width="111.63" height="32.26" fill="#E2D8F1"/>
<rect x="1001.98" y="1050.12" width="111.63" height="32.26" fill="#AA83FA"/>
<rect x="1113.31" y="1050.12" width="111.63" height="32.26" fill="#FF7959"/>
<rect x="1224.64" y="1050.12" width="111.63" height="32.26" fill="#AF8AF9"/>
<rect x="1335.97" y="1050.12" width="111.33" height="32.26" fill="#FFA890"/>
<rect x="0.00" y="1082.08" width="111.63" height="32.26" fill="#E8E3F0"/>
<rect x="111.33" y="1082.08" width="111.63" height="32.26" fill="#FF7756"/>
<rect x="222.66" y="1082.08" width="111.63" height="32.26" fill="#EEEEEE"/>
<rect x="333.99" y="1082.08" width="111.63" height="32.26" fill="#BA99F8"/>
<rect x="445.32" y="1082.08" width="111.63" height="32.26" fill="#E5DDF0"/>
<rect x="556.65" y="1082.08" width="111.63" height="32.26" fill="#FF6140"/>
<rect x="667.98" y="1082.08" width="111.63" height="32.26" fill="#F1E9E7"/>
<rect x="779.32" y="1082.08" width="111.63" height="32.26" fill="#AA83FA"/>
<rect x="890.65" y="1082.08" width="111.63" height="32.26" fill="#8054FD"/>
<rect x="1001.98" y="1082.08" width="111.63" height="32.26" fill="#DAC9F3"/>
<rect x="1113.31" y="1082.08" width="111.63" height="32.26" fill="#FF6140"/>
<rect x="1224.64" y="1082.08" width="111.63" height="32.26" fill="#FF8364"/>
<rect x="1335.97" y="1082.08" width="111.33" height="32.26" fill="#AF8AF9"/>
<rect x="0.00" y="1114.04" width="111.63" height="32.26" fill="#B18CF9"/>
<rect x="111.33" y="1114.04" width="111.63" height="32.26" fill="#FFA890"/>
<rect x="222.66" y="1114.04" width="111.63" height="32.26" fill="#FF7959"/>
<rect x="333.99" y="1114.04" width="111.63" height="32.26" fill="#BA99F8"/>
<rect x="445.32" y="1114.04" width="111.63" height="32.26" fill="#B38EF9"/>
<rect x="556.65" y="1114.04" width="111.63" height="32.26" fill="#FF9B80"/>
<rect x="667.98" y="1114.04" width="111.63" height="32.26" fill="#C2A3F7"/>
<rect x="779.32" y="1114.04" width="111.63" height="32.26" fill="#B38EF9"/>
<rect x="890.65" y="1114.04" width="111.63" height="32.26" fill="#CFB8F5"/>
<rect x="1001.98" y="1114.04" width="111.63" height="32.26" fill="#FFBFAE"/>
<rect x="1113.31" y="1114.04" width="111.63" height="32.26" fill="#FFC3B3"/>
<rect x="1224.64" y="1114.04" width="111.63" height="32.26" fill="#F3E5E2"/>
<rect x="1335.97" y="1114.04" width="111.33" height="32.26" fill="#FF9D83"/>
<rect x="0.00" y="1146.00" width="111.63" height="32.26" fill="#8F64FC"/>
<rect x="111.33" y="1146.00" width="111.63" height="32.26" fill="#FF4B2C"/>
<rect x="222.66" y="1146.00" width="111.63" height="32.26" fill="#FF7554"/>
<rect x="333.99" y="1146.00" width="111.63" height="32.26" fill="#A279FA"/>
<rect x="445.32" y="1146.00" width="111.63" height="32.26" fill="#7549FD"/>
<rect x="556.65" y="1146.00" width="111.63" height="32.26" fill="#FFA890"/>
<rect x="667.98" y="1146.00" width="111.63" height="32.26" fill="#8F64FC"/>
<rect x="779.32" y="1146.00" width="111.63" height="32.26" fill="#BA99F8"/>
<rect x="890.65" y="1146.00" width="111.63" height="32.26" fill="#FCD1C5"/>
<rect x="1001.98" y="1146.00" width="111.63" height="32.26" fill="#C9AEF6"/>
<rect x="1113.31" y="1146.00" width="111.63" height="32.26" fill="#FFC3B3"/>
<rect x="1224.64" y="1146.00" width="111.63" height="32.26" fill="#FFB19C"/>
<rect x="1335.97" y="1146.00" width="111.33" height="32.26" fill="#FF6E4E"/>
<rect x="0.00" y="1177.95" width="111.63" height="32.26" fill="#A279FA"/>
<rect x="111.33" y="1177.95" width="111.63" height="32.26" fill="#FF4527"/>
<rect x="222.66" y="1177.95" width="111.63" height="32.26" fill="#FFB19C"/>
<rect x="333.99" y="1177.95" width="111.63" height="32.26" fill="#9E75FB"/>
<rect x="445.32" y="1177.95" width="111.63" height="32.26" fill="#7549FD"/>
<rect x="556.65" y="1177.95" width="111.63" height="32.26" fill="#FF967A"/>
<rect x="667.98" y="1177.95" width="111.63" height="32.26" fill="#B38EF9"/>
<rect x="779.32" y="1177.95" width="111.63" height="32.26" fill="#6D42FD"/>
<rect x="890.65" y="1177.95" width="111.63" height="32.26" fill="#D6C3F4"/>
<rect x="1001.98" y="1177.95" width="111.63" height="32.26" fill="#F5E2DD"/>
<rect x="1113.31" y="1177.95" width="111.63" height="32.26" fill="#FF3C20"/>
<rect x="1224.64" y="1177.95" width="111.63" height="32.26" fill="#F9D9D1"/>
<rect x="1335.97" y="1177.95" width="111.33" height="32.26" fill="#FFA890"/>
<rect x="0.00" y="1209.91" width="111.63" height="32.26" fill="#A279FA"/>
<rect x="111.33" y="1209.91" width="111.63" height="32.26" fill="#FF351B"/>
<rect x="222.66" y="1209.91" width="111.63" height="32.26" fill="#FF8C6F"/>
<rect x="333.99" y="1209.91" width="111.63" height="32.26" fill="#8B5FFC"/>
<rect x="445.32" y="1209.91" width="111.63" height="32.26" fill="#5F36FE"/>
<rect x="556.65" y="1209.91" width="111.63" height="32.26" fill="#F1E9E7"/>
<rect x="667.98" y="1209.91" width="111.63" height="32.26" fill="#8F64FC"/>
<rect x="779.32" y="1209.91" width="111.63" height="32.26" fill="#E6DFF0"/>
<rect x="890.65" y="1209.91" width="111.63" height="32.26" fill="#E6DFF0"/>
<rect x="1001.98" y="1209.91" width="111.63" height="32.26" fill="#F7DDD6"/>
<rect x="1113.31" y="1209.91" width="111.63" height="32.26" fill="#FF6E4E"/>
<rect x="1224.64" y="1209.91" width="111.63" height="32.26" fill="#FFC3B3"/>
<rect x="1335.97" y="1209.91" width="111.33" height="32.26" fill="#FFA389"/>
<rect x="0.00" y="1241.87" width="111.63" height="32.26" fill="#E2D8F1"/>
<rect x="111.33" y="1241.87" width="111.63" height="32.26" fill="#FF7554"/>
<rect x="222.66" y="1241.87" width="111.63" height="32.26" fill="#FF7959"/>
<rect x="333.99" y="1241.87" width="111.63" height="32.26" fill="#D6C3F4"/>
<rect x="445.32" y="1241.87" width="111.63" height="32.26" fill="#8F64FC"/>
<rect x="556.65" y="1241.87" width="111.63" height="32.26" fill="#FFBAA7"/>
<rect x="667.98" y="1241.87" width="111.63" height="32.26" fill="#DCCEF2"/>
<rect x="779.32" y="1241.87" width="111.63" height="32.26" fill="#996EFB"/>
<rect x="890.65" y="1241.87" width="111.63" height="32.26" fill="#C9AEF6"/>
<rect x="1001.98" y="1241.87" width="111.63" height="32.26" fill="#DAC9F3"/>
<rect x="1113.31" y="1241.87" width="111.63" height="32.26" fill="#FF9B80"/>
<rect x="1224.64" y="1241.87" width="111.63" height="32.26" fill="#F4E4E0"/>
<rect x="1335.97" y="1241.87" width="111.33" height="32.26" fill="#FFAE97"/>
<rect x="0.00" y="1273.83" width="111.63" height="32.26" fill="#E2D8F1"/>
<rect x="111.33" y="1273.83" width="111.63" height="32.26" fill="#FF6343"/>
<rect x="222.66" y="1273.83" width="111.63" height="32.26" fill="#FF4B2C"/>
<rect x="333.99" y="1273.83" width="111.63" height="32.26" fill="#C2A3F7"/>
<rect x="445.32" y="1273.83" width="111.63" height="32.26" fill="#6D42FD"/>
<rect x="556.65" y="1273.83" width="111.63" height="32.26" fill="#FFA890"/>
<rect x="667.98" y="1273.83" width="111.63" height="32.26" fill="#F3E5E2"/>
<rect x="779.32" y="1273.83" width="111.63" height="32.26" fill="#A279FA"/>
<rect x="890.65" y="1273.83" width="111.63" height="32.26" fill="#996EFB"/>
<rect x="1001.98" y="1273.83" width="111.63" height="32.26" fill="#C4A7F7"/>
<rect x="1113.31" y="1273.83" width="111.63" height="32.26" fill="#FFC3B3"/>
<rect x="1224.64" y="1273.83" width="111.63" height="32.26" fill="#FFC8BA"/>
<rect x="1335.97" y="1273.83" width="111.33" height="32.26" fill="#FF8364"/>
<rect x="0.00" y="1305.78" width="111.63" height="32.26" fill="#C9AEF6"/>
<rect x="111.33" y="1305.78" width="111.63" height="32.26" fill="#FF6343"/>
<rect x="222.66" y="1305.78" width="111.63" height="32.26" fill="#FF6E4E"/>
<rect x="333.99" y="1305.78" width="111.63" height="32.26" fill="#C2A3F7"/>
<rect x="445.32" y="1305.78" width="111.63" height="32.26" fill="#6D42FD"/>
<rect x="556.65" y="1305.78" width="111.63" height="32.26" fill="#FFA890"/>
<rect x="667.98" y="1305.78" width="111.63" height="32.26" fill="#996EFB"/>
<rect x="779.32" y="1305.78" width="111.63" height="32.26" fill="#AF8AF9"/>
<rect x="890.65" y="1305.78" width="111.63" height="32.26" fill="#D2BDF4"/>
<rect x="1001.98" y="1305.78" width="111.63" height="32.26" fill="#F5E2DD"/>
<rect x="1113.31" y="1305.78" width="111.63" height="32.26" fill="#FF7959"/>
<rect x="1224.64" y="1305.78" width="111.63" height="32.26" fill="#C4A7F7"/>
<rect x="1335.97" y="1305.78" width="111.33" height="32.26" fill="#FFA890"/>
<rect x="0.00" y="1337.74" width="111.63" height="32.26" fill="#AF8AF9"/>
<rect x="111.33" y="1337.74" width="111.63" height="32.26" fill="#F7DFD8"/>
<rect x="222.66" y="1337.74" width="111.63" height="32.26" fill="#FFC3B3"/>
<rect x="333.99" y="1337.74" width="111.63" height="32.26" fill="#D6C3F4"/>
<rect x="445.32" y="1337.74" width="111.63" height="32.26" fill="#FECCBE"/>
<rect x="556.65" y="1337.74" width="111.63" height="32.26" fill="#FBD4CA"/>
<rect x="667.98" y="1337.74" width="111.63" height="32.26" fill="#FFBAA7"/>
<rect x="779.32" y="1337.74" width="111.63" height="32.26" fill="#E2D8F1"/>
<rect x="890.65" y="1337.74" width="111.63" height="32.26" fill="#D2BDF4"/>
<rect x="1001.98" y="1337.74" width="111.63" height="32.26" fill="#FF9B80"/>
<rect x="1113.31" y="1337.74" width="111.63" height="32.26" fill="#C2A3F7"/>
<rect x="1224.64" y="1337.74" width="111.63" height="32.26" fill="#ECEAEF"/>
<rect x="1335.97" y="1337.74" width="111.33" height="32.26" fill="#ECEAEF"/>
<rect x="0.00" y="1369.70" width="111.63" height="32.26" fill="#A279FA"/>
<rect x="111.33" y="1369.70" width="111.63" height="32.26" fill="#FF200D"/>
<rect x="222.66" y="1369.70" width="111.63" height="32.26" fill="#FF9275"/>
<rect x="333.99" y="1369.70" width="111.63" height="32.26" fill="#CFB8F5"/>
<rect x="445.32" y="1369.70" width="111.63" height="32.26" fill="#FAD8CF"/>
<rect x="556.65" y="1369.70" width="111.63" height="32.26" fill="#FFBAA7"/>
<rect x="667.98" y="1369.70" width="111.63" height="32.26" fill="#0000FF"/>
<rect x="779.32" y="1369.70" width="111.63" height="32.26" fill="#BA99F8"/>
<rect x="890.65" y="1369.70" width="111.63" height="32.26" fill="#AA83FA"/>
<rect x="1001.98" y="1369.70" width="111.63" height="32.26" fill="#4D29FE"/>
<rect x="1113.31" y="1369.70" width="111.63" height="32.26" fill="#FF7554"/>
<rect x="1224.64" y="1369.70" width="111.63" height="32.26" fill="#FF967A"/>
<rect x="1335.97" y="1369.70" width="111.33" height="32.26" fill="#FF351B"/>
<rect x="0.00" y="1401.66" width="111.63" height="32.26" fill="#EBE7EF"/>
<rect x="111.33" y="1401.66" width="111.63" height="32.26" fill="#FFBAA7"/>
<rect x="222.66" y="1401.66" width="111.63" height="32.26" fill="#FECCBE"/>
<rect x="333.99" y="1401.66" width="111.63" height="32.26" fill="#C2A3F7"/>
<rect x="445.32" y="1401.66" width="111.63" height="32.26" fill="#CFB8F5"/>
<rect x="556.65" y="1401.66" width="111.63" height="32.26" fill="#FF967A"/>
<rect x="667.98" y="1401.66" width="111.63" height="32.26" fill="#C2A3F7"/>
<rect x="779.32" y="1401.66" width="111.63" height="32.26" fill="#E5DDF0"/>
<rect x="890.65" y="1401.66" width="111.63" height="32.26" fill="#BF9FF7"/>
<rect x="1001.98" y="1401.66" width="111.63" height="32.26" fill="#E2D8F1"/>
<rect x="1113.31" y="1401.66" width="111.63" height="32.26" fill="#FFBAA7"/>
<rect x="1224.64" y="1401.66" width="111.63" height="32.26" fill="#DCCEF2"/>
<rect x="1335.97" y="1401.66" width="111.33" height="32.26" fill="#FF9F85"/>
<rect x="0.00" y="1433.61" width="111.63" height="32.26" fill="#B38EF9"/>
<rect x="111.33" y="1433.61" width="111.63" height="32.26" fill="#F1E9E7"/>
<rect x="222.66" y="1433.61" width="111.63" height="32.26" fill="#FF9F85"/>
<rect x="333.99" y="1433.61" width="111.63" height="32.26" fill="#FFBAA7"/>
<rect x="445.32" y="1433.61" width="111.63" height="32.26" fill="#CFB8F5"/>
<rect x="556.65" y="1433.61" width="111.63" height="32.26" fill="#FFB19C"/>
<rect x="667.98" y="1433.61" width="111.63" height="32.26" fill="#FBD4CA"/>
<rect x="779.32" y="1433.61" width="111.63" height="32.26" fill="#CFB8F5"/>
<rect x="890.65" y="1433.61" width="111.63" height="32.26" fill="#B38EF9"/>
<rect x="1001.98" y="1433.61" width="111.63" height="32.26" fill="#5831FE"/>
<rect x="1113.31" y="1433.61" width="111.63" height="32.26" fill="#F0EBE9"/>
<rect x="1224.64" y="1433.61" width="111.63" height="32.26" fill="#FECCBE"/>
<rect x="1335.97" y="1433.61" width="111.33" height="32.26" fill="#FFC3B3"/>
<rect x="0.00" y="1465.57" width="111.63" height="32.26" fill="#A279FA"/>
<rect x="111.33" y="1465.57" width="111.63" height="32.26" fill="#FF7959"/>
<rect x="222.66" y="1465.57" width="111.63" height="32.26" fill="#FF8364"/>
<rect x="333.99" y="1465.57" width="111.63" height="32.26" fill="#A279FA"/>
<rect x="445.32" y="1465.57" width="111.63" height="32.26" fill="#996EFB"/>
<rect x="556.65" y="1465.57" width="111.63" height="32.26" fill="#FBD4CA"/>
<rect x="667.98" y="1465.57" width="111.63" height="32.26" fill="#F6E0DB"/>
<rect x="779.32" y="1465.57" width="111.63" height="32.26" fill="#996EFB"/>
<rect x="890.65" y="1465.57" width="111.63" height="32.26" fill="#FFC3B3"/>
<rect x="1001.98" y="1465.57" width="111.63" height="32.26" fill="#ECEAEF"/>
<rect x="1113.31" y="1465.57" width="111.63" height="32.26" fill="#F5E2DD"/>
<rect x="1224.64" y="1465.57" width="111.63" height="32.26" fill="#F5E2DD"/>
<rect x="1335.97" y="1465.57" width="111.33" height="32.26" fill="#FCD1C5"/>
<rect x="0.00" y="1497.53" width="111.63" height="32.26" fill="#BA99F8"/>
<rect x="111.33" y="1497.53" width="111.63" height="32.26" fill="#FF967A"/>
<rect x="222.66" y="1497.53" width="111.63" height="32.26" fill="#FF8C6F"/>
<rect x="333.99" y="1497.53" width="111.63" height="32.26" fill="#A279FA"/>
<rect x="445.32" y="1497.53" width="111.63" height="32.26" fill="#774BFD"/>
<rect x="556.65" y="1497.53" width="111.63" height="32.26" fill="#FF8C6F"/>
<rect x="667.98" y="1497.53" width="111.63" height="32.26" fill="#F0EBEA"/>
<rect x="779.32" y="1497.53" width="111.63" height="32.26" fill="#774BFD"/>
<rect x="890.65" y="1497.53" width="111.63" height="32.26" fill="#F3E5E2"/>
<rect x="1001.98" y="1497.53" width="111.63" height="32.26" fill="#D6C3F4"/>
<rect x="1113.31" y="1497.53" width="111.63" height="32.26" fill="#FF9F85"/>
<rect x="1224.64" y="1497.53" width="111.63" height="32.26" fill="#FFB19C"/>
<rect x="1335.97" y="1497.53" width="111.33" height="32.26" fill="#C2A3F7"/>
<rect x="0.00" y="1529.49" width="111.63" height="32.26" fill="#A279FA"/>
<rect x="111.33" y="1529.49" width="111.63" height="32.26" fill="#FF0000"/>
<rect x="222.66" y="1529.49" width="111.63" height="32.26" fill="#FF4527"/>
<rect x="333.99" y="1529.49" width="111.63" height="32.26" fill="#BA99F8"/>
<rect x="445.32" y="1529.49" width="111.63" height="32.26" fill="#4020FF"/>
<rect x="556.65" y="1529.49" width="111.63" height="32.26" fill="#AF8AF9"/>
<rect x="667.98" y="1529.49" width="111.63" height="32.26" fill="#A77FFA"/>
<rect x="779.32" y="1529.49" width="111.63" height="32.26" fill="#BA99F8"/>
<rect x="890.65" y="1529.49" width="111.63" height="32.26" fill="#EEEEEE"/>
<rect x="1001.98" y="1529.49" width="111.63" height="32.26" fill="#FFBAA7"/>
<rect x="1113.31" y="1529.49" width="111.63" height="32.26" fill="#FF967A"/>
<rect x="1224.64" y="1529.49" width="111.63" height="32.26" fill="#D6C3F4"/>
<rect x="1335.97" y="1529.49" width="111.33" height="32.26" fill="#FF7554"/>
<rect x="0.00" y="1561.44" width="111.63" height="31.96" fill="#F3E5E2"/>
<rect x="111.33" y="1561.44" width="111.63" height="31.96" fill="#FF7554"/>
<rect x="222.66" y="1561.44" width="111.63" height="31.96" fill="#FF8364"/>
<rect x="333.99" y="1561.44" width="111.63" height="31.96" fill="#996EFB"/>
<rect x="445.32" y="1561.44" width="111.63" height="31.96" fill="#7A4EFD"/>
<rect x="556.65" y="1561.44" width="111.63" height="31.96" fill="#FF9F85"/>
<rect x="667.98" y="1561.44" width="111.63" height="31.96" fill="#C9AEF6"/>
<rect x="779.32" y="1561.44" width="111.63" height="31.96" fill="#7549FD"/>
<rect x="890.65" y="1561.44" width="111.63" height="31.96" fill="#8559FC"/>
<rect x="1001.98" y="1561.44" width="111.63" height="31.96" fill="#F7DDD6"/>
<rect x="1113.31" y="1561.44" width="111.63" height="31.96" fill="#FF5837"/>
<rect x="1224.64" y="1561.44" width="111.63" height="31.96" fill="#FECCBE"/>
<rect x="1335.97" y="1561.44" width="111.33" height="31.96" fill="#FECCBE"/>
<rect x="365.90" y="1764.10" width="33.20" height="166.40" fill="url(#g)"/>
<path d="M365.9 1770.4h7.5M391.6 1770.4h7.5" stroke="#fff" stroke-width="1.6"/>
<path d="M365.9 1808.9h7.5M391.6 1808.9h7.5" stroke="#fff" stroke-width="1.6"/>
<path d="M365.9 1847.4h7.5M391.6 1847.4h7.5" stroke="#fff" stroke-width="1.6"/>
<path d="M365.9 1885.9h7.5M391.6 1885.9h7.5" stroke="#fff" stroke-width="1.6"/>
<path d="M365.9 1924.4h7.5M391.6 1924.4h7.5" stroke="#fff" stroke-width="1.6"/>
</svg>
<div class="t b" style="left:1455.3px;top:10.6px;font-size:28px;">Best Response</div>
<div class="t b" style="left:1455.0px;top:54.4px;font-size:28px;">Ongoing Response</div>
<div class="t" style="left:1454.5px;top:97.0px;">NK Activity</div>
<div class="t" style="left:1454.5px;top:129.0px;">NK Receptors</div>
<div class="t" style="left:1454.5px;top:160.9px;">Cytotoxicity</div>
<div class="t" style="left:1454.5px;top:192.9px;">IL−6 Signaling</div>
<div class="t" style="left:1454.5px;top:224.8px;">Myeloid Immune Evasion</div>
<div class="t" style="left:1454.5px;top:256.8px;">NK Exhaustion</div>
<div class="t" style="left:1454.5px;top:288.8px;">IL−2 Signaling</div>
<div class="t" style="left:1454.5px;top:320.7px;">Fatty Acid Metabolism</div>
<div class="t" style="left:1454.5px;top:352.7px;">T-Cell Checkpoint Signaling</div>
<div class="t" style="left:1454.5px;top:384.6px;">IL−10 Signaling</div>
<div class="t" style="left:1454.5px;top:416.6px;">T-Cell Memory</div>
<div class="t" style="left:1454.5px;top:448.5px;">Epigenetic Modification</div>
<div class="t" style="left:1454.5px;top:480.5px;">Glutamine Metabolism</div>
<div class="t" style="left:1454.5px;top:512.5px;">Chemokine Signaling</div>
<div class="t" style="left:1454.5px;top:544.4px;">IL−7 Signaling</div>
<div class="t" style="left:1454.5px;top:576.4px;">Cell Cycle</div>
<div class="t" style="left:1454.5px;top:608.3px;">Naive</div>
<div class="t" style="left:1454.5px;top:640.3px;">mTOR Signaling</div>
<div class="t" style="left:1454.5px;top:672.2px;">CTLA4 Signaling</div>
<div class="t" style="left:1454.5px;top:704.2px;">AP−1 Signaling</div>
<div class="t" style="left:1454.5px;top:736.2px;">Apoptosis</div>
<div class="t" style="left:1454.5px;top:768.1px;">BCR Signaling</div>
<div class="t" style="left:1454.5px;top:800.1px;">Senescence &amp; Quiescence</div>
<div class="t" style="left:1454.5px;top:832.0px;">TLR Signaling</div>
<div class="t" style="left:1454.5px;top:864.0px;">TGF−beta Signaling</div>
<div class="t" style="left:1454.5px;top:895.9px;">B-Cell Exhaustion</div>
<div class="t" style="left:1454.5px;top:927.9px;">Hypoxia Response</div>
<div class="t" style="left:1454.5px;top:959.9px;">JAK/STAT Signaling</div>
<div class="t" style="left:1454.5px;top:991.8px;">PPAR Signaling</div>
<div class="t" style="left:1454.5px;top:1023.8px;">PI3K−AKT Pathway</div>
<div class="t" style="left:1454.5px;top:1055.7px;">DAP12 Signaling</div>
<div class="t" style="left:1454.5px;top:1087.7px;">Type I Interferon</div>
<div class="t" style="left:1454.5px;top:1119.6px;">MAPK Signaling</div>
<div class="t" style="left:1454.5px;top:1151.6px;">NF−kB Signaling</div>
<div class="t" style="left:1454.5px;top:1183.6px;">Type II Interferon</div>
<div class="t" style="left:1454.5px;top:1215.5px;">Antigen Presentation</div>
<div class="t" style="left:1454.5px;top:1247.5px;">Other Interleukin Signaling</div>
<div class="t" style="left:1454.5px;top:1279.4px;">TNF Signaling</div>
<div class="t" style="left:1454.5px;top:1311.4px;">TCR Signaling</div>
<div class="t" style="left:1454.5px;top:1343.4px;">Glycolysis and Glucose Import</div>
<div class="t" style="left:1454.5px;top:1375.3px;">B-Cell Memory</div>
<div class="t" style="left:1454.5px;top:1407.3px;">IL−1 Signaling</div>
<div class="t" style="left:1454.5px;top:1439.2px;">RAR Signaling</div>
<div class="t" style="left:1454.5px;top:1471.2px;">Notch Signaling</div>
<div class="t" style="left:1454.5px;top:1503.1px;">Anergy</div>
<div class="t" style="left:1454.5px;top:1535.1px;">PD1 Signaling</div>
<div class="t" style="left:1454.5px;top:1567.1px;">T-Cell Exhaustion</div>
<div class="t b" style="left:724.0px;top:1620.9px;transform:translateX(-50%);font-size:28px;">Patients</div>
<div class="t b" style="left:367.2px;top:1726.4px;font-size:28px;">GSVA</div>
<div class="t b" style="left:538.0px;top:1726.8px;font-size:28px;">Best Response</div>
<div class="t b" style="left:826.0px;top:1727.0px;font-size:28px;">Ongoing Response</div>
<div class="t" style="left:405.5px;top:1757.6px;">1</div>
<div class="t" style="left:405.5px;top:1796.1px;">0.5</div>
<div class="t" style="left:405.5px;top:1834.6px;">0</div>
<div class="t" style="left:405.5px;top:1873.1px;">−0.5</div>
<div class="t" style="left:405.5px;top:1911.6px;">−1</div>
<div style="position:absolute;left:538.9px;top:1766.4px;width:29px;height:28.5px;background:#008080"></div>
<div style="position:absolute;left:538.9px;top:1797.6px;width:29px;height:28.6px;background:#FFA500"></div>
<div style="position:absolute;left:827.5px;top:1766.4px;width:29px;height:28.5px;background:#00FF00"></div>
<div style="position:absolute;left:827.5px;top:1797.8px;width:29px;height:28.7px;background:#A020F0"></div>
<div class="t" style="left:577.0px;top:1767.6px;">CR</div>
<div class="t" style="left:577.6px;top:1798.7px;">PR+SD+PD</div>
<div class="t" style="left:865.2px;top:1767.6px;">Ongoing</div>
<div class="t" style="left:865.2px;top:1798.7px;">Others</div>
</body></html>
